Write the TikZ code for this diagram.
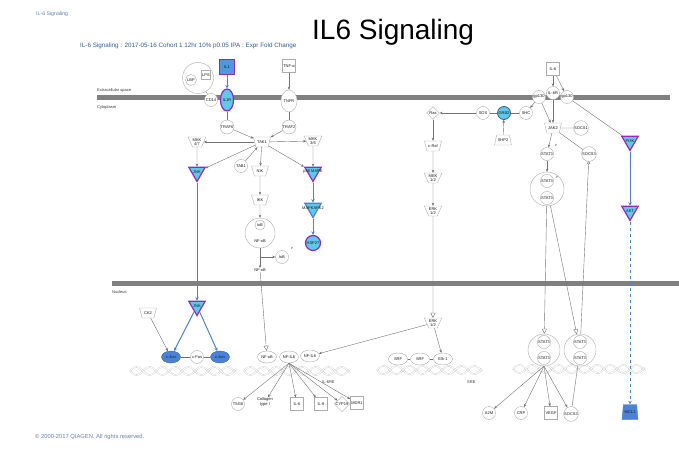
\documentclass[tikz,border=0pt]{standalone}
\usepackage{fontspec}
\setmainfont{Liberation Sans}
\usetikzlibrary{shapes.geometric,arrows.meta}

\definecolor{ipapurple}{RGB}{150,40,190}
\definecolor{ipacyan}{RGB}{95,200,232}
\definecolor{ipablue}{RGB}{75,130,215}
\definecolor{edgegray}{RGB}{115,115,115}
\definecolor{bargray}{RGB}{128,128,128}

\newcommand{\lbl}{\fontsize{4}{4.4}\selectfont}
\newcommand{\ov}[1]{\makebox[0pt]{#1}}
\newcommand{\dnahelix}[3]{%
  \draw[helix] plot[domain=#1:#2, samples=90] (\x, {#3+4*sin(((\x-#1)/26)*360)});
  \draw[helix] plot[domain=#1:#2, samples=90] (\x, {#3-4*sin(((\x-#1)/26)*360)});
}

\tikzset{
  mol/.style={draw=gray!65, fill=white, text=gray!20!black, font=\lbl, inner sep=0.4pt, align=center},
  circ/.style={mol, circle, minimum size=13},
  ell/.style={mol, ellipse, minimum width=19, minimum height=12},
  cyto/.style={mol, rectangle, minimum size=13},
  recep/.style={mol, ellipse, minimum width=11, minimum height=22},
  trap/.style={mol, trapezium, shape border rotate=180, trapezium stretches=true, minimum width=17, minimum height=10, inner sep=0.2pt},
  kin/.style={mol, regular polygon, regular polygon sides=3, shape border rotate=180, minimum size=19, inner sep=0pt},
  diam/.style={mol, diamond, minimum size=13, inner sep=0pt},
  up/.style={draw=ipapurple, line width=1.2pt, fill=ipacyan},
  helix/.style={draw=gray!45, line width=0.3pt, double=white, double distance=0.9pt},
  bar/.style={draw=bargray, line width=5pt},
  arr/.style={draw=edgegray, line width=0.4pt, -{Stealth[length=3pt,width=2.6pt]}},
  lin/.style={draw=edgegray, line width=0.4pt},
  opn/.style={draw=edgegray, line width=0.4pt, -{Triangle[open,length=5pt,width=5pt]}},
  barr/.style={draw=ipablue, line width=1pt, -{Stealth[length=3.5pt,width=3.5pt]}},
  phos/.style={font=\fontsize{3}{3}\selectfont, text=gray!40!black, inner sep=0pt},
  cmp/.style={font=\lbl, text=gray!40!black, anchor=west, inner sep=0pt}
}

\begin{document}
\begin{tikzpicture}[x=1pt,y=-1pt]
  \useasboundingbox (0,0) rectangle (679,462);

  % headings
  \node[anchor=base west, inner sep=0pt] (title) at (312,40) {\fontsize{28}{30}\selectfont IL6 Signaling};
  \node[anchor=west, inner sep=0pt, text=ipablue!60!gray] (tl) at (36,14) {\fontsize{5.2}{6}\selectfont IL-6 Signaling};
  \node[anchor=west, inner sep=0pt, text=ipablue!70!black] (sub) at (80,46) {\fontsize{6.3}{7}\selectfont IL-6 Signaling : 2017-05-16 Cohort 1 12hr 10\% p0.05 IPA : Expr Fold Change};
  \node[anchor=west, inner sep=0pt, text=ipablue!60!gray] (copy) at (35,437) {\fontsize{5.8}{6}\selectfont © 2000-2017 QIAGEN. All rights reserved.};

  % membranes
  \draw[bar] (97,98) -- (670,98);
  \draw[bar] (112,283) -- (679,283);
  \node[cmp] (ecs) at (97,90) {Extracellular space};
  \node[cmp] (cyt) at (97,107) {Cytoplasm};
  \node[cmp] (nuc) at (112,292) {Nucleus};

  % DNA
  \dnahelix{130}{236}{371}
  \dnahelix{244}{350}{371}
  \dnahelix{377}{482}{370}
  \dnahelix{513}{645}{369}
  \node[cmp] (il6re) at (322,382) {IL-6RE};
  \node[cmp] (sre) at (467,382) {SRE};

  % IL1 / TNF branch
  \node[circ, minimum size=31] (lbpc) at (198,78) {};
  \node[circ, minimum size=11] (lbp) at (191,80) {LBP};
  \node[mol, minimum size=9] (lps) at (206,75) {LPS};
  \node[cyto, up, fill=ipablue!70!ipacyan, minimum size=15] (il1) at (227,67) {IL1};
  \node[cyto] (tnfa) at (289,66) {TNF-α};
  \node[circ] (cd14) at (211,100) {CD14};
  \node[recep, up] (il1r) at (227,100) {IL1R};
  \node[recep] (tnfr) at (289,101) {TNFR};
  \node[circ] (traf6) at (227,127) {TRAF6};
  \node[circ] (traf2) at (289,127) {TRAF2};
  \node[trap] (tak1) at (262,142) {TAK1};
  \node[trap] (mkk47) at (197,142) {MKK\\4/7};
  \node[trap] (mkk36) at (313,141) {MKK\\3/6};
  \node[circ] (tab1) at (241,166) {TAB1};
  \node[trap] (nik) at (260,171) {NIK};
  \node[kin, up] (jnk) at (197,172) {\ov{JNK}};
  \node[kin, up] (p38) at (313,172) {\ov{p38 MAPK}};
  \node[kin, up, draw=ipablue] (mk2) at (313,208) {\ov{MAPKAPK2}};
  \node[circ, up, minimum size=15] (hsp27) at (313,243) {\ov{HSP27}};
  \node[trap] (ikk) at (260,200) {IKK};
  \node[circ, minimum size=30] (nfkbc) at (260,233) {};
  \node[circ, minimum size=10] (ikbin) at (260,225) {IκB};
  \node[mol, draw=none] (nfkbin) at (260,241) {NF-κB};
  \node[circ] (ikb) at (282,257) {IκB};
  \node[phos] (ikbp) at (292,248) {P};
  \node[mol, draw=none] (nfkb) at (260,270) {NF-κB};
  \coordinate (ikbbr) at (260,257);

  % IL-6 receptor branch
  \node[cyto] (il6) at (553,69) {IL-6};
  \node[circ] (gp130a) at (539,97) {gp130};
  \node[circ] (gp130b) at (567,97) {gp130};
  \node[circ] (il6r) at (553,93) {IL-6R};
  \node[circ] (shc) at (526,113) {SHC};
  \node[circ, fill=ipacyan, draw=ipablue!70!black, line width=0.8pt] (grb2) at (504,113) {GRB2};
  \node[circ] (sos) at (483,113) {SOS};
  \node[diam] (ras) at (433,113) {Ras};
  \node[trap, shape border rotate=0] (shp2) at (503,140) {SHP2};
  \node[trap] (craf) at (433,146) {c-Raf};
  \node[trap] (mek) at (433,178) {MEK\\1/2};
  \node[trap] (erk) at (433,211) {ERK\\1/2};
  \node[trap] (jak2) at (553,128) {JAK2};
  \node[circ] (socs1) at (581,128) {SOCS1};
  \node[circ] (stat3) at (547,154) {STAT3};
  \node[phos] (stat3p) at (556,145) {P};
  \node[circ] (socs3) at (589,154) {SOCS3};
  \node[circ, minimum size=34] (stat3d) at (547,189) {};
  \node[circ] (stat3da) at (547,181) {STAT3};
  \node[circ] (stat3db) at (547,198) {STAT3};
  \node[phos] (stat3dp) at (557,177) {P};
  \node[kin, up] (pi3k) at (630,141) {\ov{PI3K}};
  \node[kin, up] (akt) at (630,211) {\ov{AKT}};

  % nucleus
  \node[kin, up] (jnkn) at (197,306) {\ov{JNK}};
  \node[trap] (ck2) at (148,313) {CK2};
  \node[ell, fill=ipablue, draw=ipablue!80!black] (cjun1) at (171,357) {c-Jun};
  \node[circ] (cfos) at (197,357) {c-Fos};
  \node[ell, fill=ipablue, draw=ipablue!80!black] (cjun2) at (220,357) {c-Jun};
  \node[ell] (nfkbn) at (267,357) {NF-κB};
  \node[ell] (nfil6a) at (289,357) {NF-IL6};
  \node[ell] (nfil6b) at (310,356) {NF-IL6};
  \node[trap] (erkn) at (433,323) {ERK\\1/2};
  \node[ell] (srf1) at (398,359) {SRF};
  \node[ell] (srf2) at (420,359) {SRF};
  \node[ell] (elk1) at (443,359) {Elk-1};
  \node[circ, minimum size=32] (stat3n1) at (544,350) {};
  \node[circ] (stat3n1a) at (544,342) {STAT3};
  \node[circ] (stat3n1b) at (544,358) {STAT3};
  \node[circ, minimum size=32] (stat3n2) at (580,350) {};
  \node[circ] (stat3n2a) at (580,342) {STAT3};
  \node[circ] (stat3n2b) at (580,358) {STAT3};

  % targets
  \node[circ] (tsg6) at (238,404) {TSG6};
  \node[mol, draw=none] (col1) at (265,402) {Collagen\\type I};
  \node[cyto] (il6t) at (297,404) {IL-6};
  \node[cyto] (il8t) at (321,404) {IL-8};
  \node[diam] (cyp19) at (342,404) {CYP19};
  \node[cyto] (mdr1) at (357,403) {MDR1};
  \node[circ] (a2m) at (489,413) {A2M};
  \node[circ] (crp) at (521,413) {CRP};
  \node[cyto] (vegf) at (551,413) {VEGF};
  \node[circ] (socs3t) at (571,414) {SOCS3};
  \node[mol, trapezium, trapezium stretches=true, trapezium left angle=72, trapezium right angle=72, minimum width=16, minimum height=15, fill=ipablue, draw=ipablue] (mcl1) at (630,412) {MCL1};

  % IL1 / TNF edges
  \draw[barr] (il1) -- (il1r);
  \draw[arr] (tnfa) -- (tnfr);
  \draw[lin] (lbpc) -- (cd14);
  \draw[lin] (il1r) -- (traf6);
  \draw[lin] (tnfr) -- (traf2);
  \draw[arr] (traf6) -- (tak1);
  \draw[arr] (traf2) -- (tak1);
  \draw[arr] (tak1) -- (mkk47);
  \draw[arr] (tak1) -- (mkk36);
  \draw[arr] (tak1) -- (jnk);
  \draw[arr] (tak1) -- (p38);
  \draw[arr] (tak1) -- (nik);
  \draw[arr] (tab1) -- (tak1);
  \draw[arr] (mkk47) -- (jnk);
  \draw[arr] (mkk36) -- (p38);
  \draw[barr] (p38) -- (mk2);
  \draw[barr] (mk2) -- (hsp27);
  \draw[arr] (nik) -- (ikk);
  \draw[arr] (ikk) -- (nfkbc);
  \draw[arr] (nfkbc) -- (nfkb);
  \draw[arr] (ikbbr) -- (ikb);
  \draw[opn] (nfkb) -- (nfkbn);

  % AP-1
  \draw[barr] (jnk) -- (jnkn);
  \draw[barr] (jnkn) -- (cjun1);
  \draw[barr] (jnkn) -- (cjun2);
  \draw[arr] (ck2) -- (cjun1);
  \draw[lin] (cjun1) -- (cfos) -- (cjun2);

  % IL-6 edges
  \draw[arr] (il6) -- (il6r);
  \draw[arr] (il6) -- (gp130b);
  \draw[arr] (gp130a) -- (shc);
  \draw[arr] (il6r) -- (jak2);
  \draw[arr] (gp130a) -- (jak2);
  \draw[lin] (shc) -- (grb2) -- (sos);
  \draw[arr] (sos) -- (ras);
  \draw[arr] (shp2) -- (grb2);
  \draw[arr] (ras) -- (craf);
  \draw[arr] (craf) -- (mek);
  \draw[arr] (mek) -- (erk);
  \draw[opn] (erk) -- (erkn);
  \draw[arr] (erkn) -- (elk1);
  \draw[arr] (erkn) -- (nfil6b);
  \draw[lin] (srf1) -- (srf2) -- (elk1);
  \draw[lin] (jak2) -- (socs1);
  \draw[lin] (jak2) -- (socs3);
  \draw[arr] (jak2) -- (stat3);
  \draw[arr] (stat3) -- (stat3d);
  \draw[opn] (stat3d) -- (stat3n1);
  \draw[opn] (stat3d) -- (stat3n2);
  \draw[draw=edgegray, line width=0.4pt, -{Circle[open,length=3pt]}] (stat3n2) -- (socs3);
  \draw[lin] (gp130b) -- (pi3k);
  \draw[barr] (pi3k) -- (akt);
  \draw[barr, dashed] (akt) -- (mcl1);

  % transcription targets
  \foreach \t in {tsg6,col1,il6t,il8t,cyp19,mdr1}
    \draw[arr] (nfil6a.south) -- (\t);
  \foreach \t in {a2m,crp,vegf,socs3t}
    \draw[arr] (stat3n1.south) -- (\t);
  \draw[lin] (stat3n2) -- (socs3t);
\end{tikzpicture}
\end{document}
